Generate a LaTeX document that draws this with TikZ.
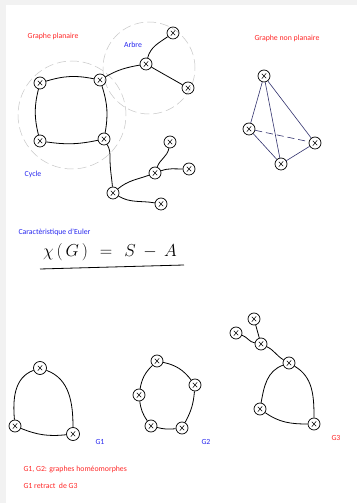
\documentclass[tikz,border=0pt]{standalone}
\usepackage{fontspec}
\setmainfont{Carlito}
\begin{document}
\begin{tikzpicture}[x=1pt,y=1pt,
  vx/.style={circle,draw,line width=0.7pt,minimum size=12pt,inner sep=0pt,
    path picture={\draw[line width=0.5pt] ([xshift=-2.2pt,yshift=-2.7pt]path picture bounding box.center) -- ([xshift=2.2pt,yshift=2.7pt]path picture bounding box.center);
                  \draw[line width=0.5pt] ([xshift=-2.2pt,yshift=2.2pt]path picture bounding box.center) -- ([xshift=2.2pt,yshift=-2.2pt]path picture bounding box.center);}},
  ed/.style={line width=0.8pt},
  ted/.style={line width=0.6pt,draw=tetcol},
  redt/.style={text=redc,font=\fontsize{7.8}{9}\selectfont},
  bluet/.style={text=bluec,font=\fontsize{7.8}{9}\selectfont},
  ghost/.style={draw=black!22,line width=0.5pt,dash pattern=on 9pt off 4pt}
]
\definecolor{redc}{RGB}{255,40,40}
\definecolor{bluec}{RGB}{40,40,240}
\definecolor{tetcol}{RGB}{50,50,110}
\useasboundingbox (0,0) rectangle (357,503);
\fill[white] (0,0) rectangle (357,503);
\fill[black!5] (0,0) rectangle (6,503);
\fill[black!5] (0,498) rectangle (357,503);

% ghost circles
\draw[ghost] (72,388) circle (54);
\draw[ghost] (149,435) circle (46);

% planar graph
\node[vx] (A) at (40,420) {};
\node[vx] (B) at (100,423) {};
\node[vx] (C) at (40,362) {};
\node[vx] (D) at (104,364) {};
\node[vx] (E) at (146,439) {};
\node[vx] (F) at (173,470) {};
\node[vx] (Gn) at (188,415) {};
\node[vx] (H) at (113,310) {};
\node[vx] (I) at (155,330) {};
\node[vx] (J) at (170,361) {};
\node[vx] (K) at (189,334) {};
\node[vx] (L) at (161,299) {};

\draw[ed] (A) to[bend left=14] (B);
\draw[ed] (B) to[bend left=14] (D);
\draw[ed] (D) to[bend left=10] (C);
\draw[ed] (C) to[bend left=14] (A);
\draw[ed] (B) to[out=30,in=190] (E);
\draw[ed] (E) to[out=75,in=215] (F);
\draw[ed] (E) to[out=-30,in=150] (Gn);
\draw[ed] (D) to[out=-60,in=90] ([xshift=6pt]D.south |- 0,345) to[out=-90,in=95] (H);
\draw[ed] (H) to[out=40,in=200] (I);
\draw[ed] (I) to[out=70,in=260] (J);
\draw[ed] (I) to[out=20,in=180] (K);
\draw[ed] (H) to[out=-30,in=170] (L);

\node[redt] (t1) at (53,467) {Graphe planaire};
\node[bluet] (t2) at (133,458) {Arbre};
\node[bluet] (t3) at (33,329) {Cycle};

% non planar
\node[redt] (t4) at (287,465) {Graphe non planaire};
\node[vx] (T1) at (264,427) {};
\node[vx] (T2) at (249,374) {};
\node[vx] (T3) at (281,339) {};
\node[vx] (T4) at (315,360) {};
\draw[ted] (T1) -- (T2);
\draw[ted] (T1) -- (T3);
\draw[ted] (T1) -- (T4);
\draw[ted] (T2) -- (T3);
\draw[ted] (T3) -- (T4);
\draw[ted,dash pattern=on 7pt off 4pt] (T2) -- (T4);

% Euler
\node[bluet,anchor=west] (t5) at (15,271) {Caractèristique d'Euler};
\node[font=\fontsize{16}{18}\selectfont] (f) at (110,251) {$\chi\,(\,G\,)\ \ =\ \ S\ -\ A$};
\coordinate (u1) at (40,234);
\coordinate (u2) at (184,238);
\draw[line width=0.8pt] (u1) -- (u2);

% G1
\node[vx,minimum size=13pt] (a) at (40,135) {};
\node[vx] (b) at (15,77) {};
\node[vx,minimum size=13pt] (c) at (73,69) {};
\draw[ed] (b) to[out=95,in=200] (a);
\draw[ed] (a) to[out=-20,in=90] (c);
\draw[ed] (c) to[bend left=14] (b);
\node[bluet] (g1) at (100,61) {G1};

% G2
\node[vx] (p) at (157,142) {};
\node[vx] (q) at (195,118) {};
\node[vx] (r) at (139,108) {};
\node[vx] (s) at (151,77) {};
\node[vx] (tt) at (182,75) {};
\draw[ed] (p) to[bend left=20] (q);
\draw[ed] (q) to[bend left=12] (tt);
\draw[ed] (tt) to[bend left=10] (s);
\draw[ed] (s) to[bend left=14] (r);
\draw[ed] (r) to[bend left=18] (p);
\node[bluet] (g2) at (206,61) {G2};

% G3
\node[vx] (w1) at (254,184) {};
\node[vx] (w2) at (236,170) {};
\node[vx] (w3) at (261,159) {};
\node[vx] (w4) at (289,140) {};
\node[vx] (w5) at (260,94) {};
\node[vx] (w6) at (314,79) {};
\draw[ed] (w1) -- (w3);
\draw[ed] (w2) to[out=-20,in=170] (w3);
\draw[ed] (w3) to[out=-25,in=150] (w4);
\draw[ed] (w4) to[out=200,in=80] (w5);
\draw[ed] (w5) to[out=-35,in=180] (w6);
\draw[ed] (w6) to[out=90,in=-30] (w4);
\node[redt] (g3) at (336,65) {G3};

\node[redt,anchor=west] (t6) at (20,34) {G1, G2: graphes homéomorphes};
\node[redt,anchor=west] (t7) at (20,17) {G1 retract~ de G3};
\end{tikzpicture}
\end{document}
